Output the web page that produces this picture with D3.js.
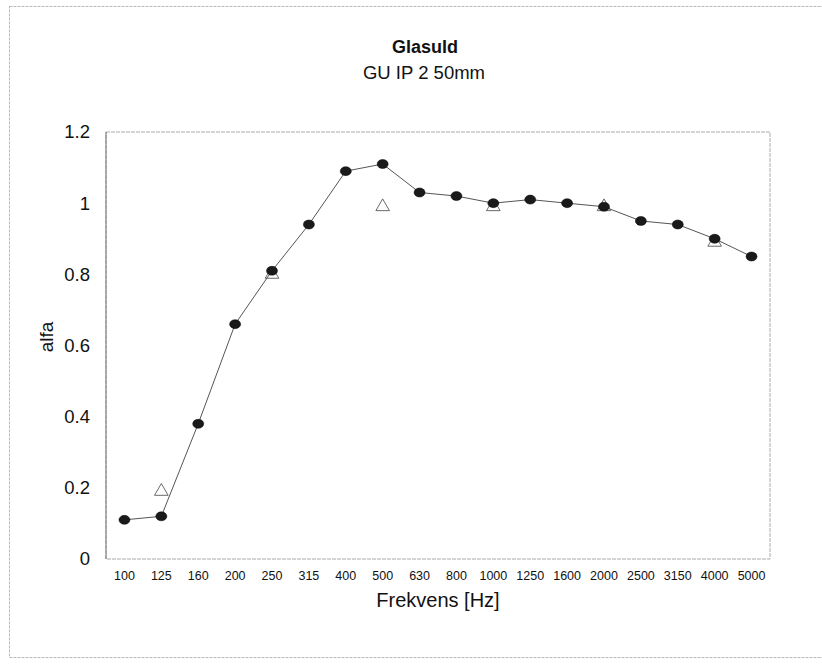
<!DOCTYPE html>
<html>
<head>
<meta charset="utf-8">
<script src="https://cdn.jsdelivr.net/npm/d3@7"></script>
<style>
  body { margin: 0; background: #fff; }
  svg { display: block; font-family: "Liberation Sans", Arial, sans-serif; }
</style>
</head>
<body>
<svg id="chart" width="822" height="665"></svg>
<script>
const categories = ["100","125","160","200","250","315","400","500","630","800","1000","1250","1600","2000","2500","3150","4000","5000"];
const alfaThird = [0.11,0.12,0.38,0.66,0.81,0.94,1.09,1.11,1.03,1.02,1.00,1.01,1.00,0.99,0.95,0.94,0.90,0.85];
const octaveCats = ["125","250","500","1000","2000","4000"];
const alfaOctave = [0.19,0.80,0.99,0.99,0.99,0.89];
const yTicks = [0,0.2,0.4,0.6,0.8,1,1.2];

const svg = d3.select("#chart");
const m = {left:106, top:132, right:770, bottom:559};

// outer frame
svg.append("rect").attr("x",9.5).attr("y",6.5).attr("width",830).attr("height",651)
  .attr("fill","none").attr("stroke","#b8b8b8").attr("stroke-width",1).attr("stroke-dasharray","3,1");

const x = d3.scaleBand().domain(categories).range([m.left, m.right]).padding(0);
const y = d3.scaleLinear().domain([0,1.2]).range([m.bottom, m.top]);

// plot frame
svg.append("rect").attr("x",m.left).attr("y",m.top).attr("width",m.right-m.left).attr("height",m.bottom-m.top)
  .attr("fill","none").attr("stroke","#aaa").attr("stroke-width",1).attr("stroke-dasharray","4,1");
svg.append("line").attr("x1",m.left).attr("x2",m.left).attr("y1",m.top).attr("y2",m.bottom)
  .attr("stroke","#777").attr("stroke-width",1);

// y axis
const yAxis = d3.axisLeft(y).tickValues(yTicks).tickSize(0).tickPadding(16).tickFormat(d => d3.format("")(d));
const gy = svg.append("g").attr("transform",`translate(${m.left},0)`).call(yAxis);
gy.select(".domain").remove();
gy.selectAll("text").attr("font-size",18.5).attr("fill","#111").attr("font-family","Liberation Sans, Arial, sans-serif");

// x axis
const xAxis = d3.axisBottom(x).tickSize(0).tickPadding(12);
const gx = svg.append("g").attr("transform",`translate(0,${m.bottom})`).call(xAxis);
gx.select(".domain").remove();
gx.selectAll("text").attr("font-size",12.5).attr("fill","#111").attr("font-family","Liberation Sans, Arial, sans-serif");

// titles
svg.append("text").attr("x",425).attr("y",53).attr("text-anchor","middle")
  .attr("font-size",18).attr("font-weight","bold").attr("fill","#111").text("Glasuld");
svg.append("text").attr("x",424).attr("y",79).attr("text-anchor","middle")
  .attr("font-size",18.5).attr("fill","#111").text("GU IP 2 50mm");
svg.append("text").attr("x",438).attr("y",607).attr("text-anchor","middle")
  .attr("font-size",20).attr("fill","#111").text("Frekvens [Hz]");
svg.append("text").attr("transform","translate(53,337) rotate(-90)").attr("text-anchor","middle")
  .attr("font-size",19).attr("fill","#111").text("alfa");

const cx = c => x(c) + x.bandwidth()/2;

// octave triangles
const tri = d3.symbol().type(d3.symbolTriangle).size(80);
svg.append("g").selectAll("path").data(octaveCats.map((c,i)=>({c, v: alfaOctave[i]})))
  .join("path")
  .attr("transform", d => `translate(${cx(d.c)},${y(d.v)})`)
  .attr("d", tri)
  .attr("fill","#fff").attr("stroke","#444").attr("stroke-width",0.8);

// third-octave line
const data = categories.map((c,i)=>({c, v: alfaThird[i]}));
svg.append("path").datum(data)
  .attr("d", d3.line().x(d=>cx(d.c)).y(d=>y(d.v)))
  .attr("fill","none").attr("stroke","#555").attr("stroke-width",1);

svg.append("g").selectAll("ellipse").data(data).join("ellipse")
  .attr("cx", d=>cx(d.c)).attr("cy", d=>y(d.v)).attr("rx",5.5).attr("ry",4.5)
  .attr("fill","#1a1a1a").attr("stroke","#000").attr("stroke-width",0.5);
</script>
</body>
</html>
